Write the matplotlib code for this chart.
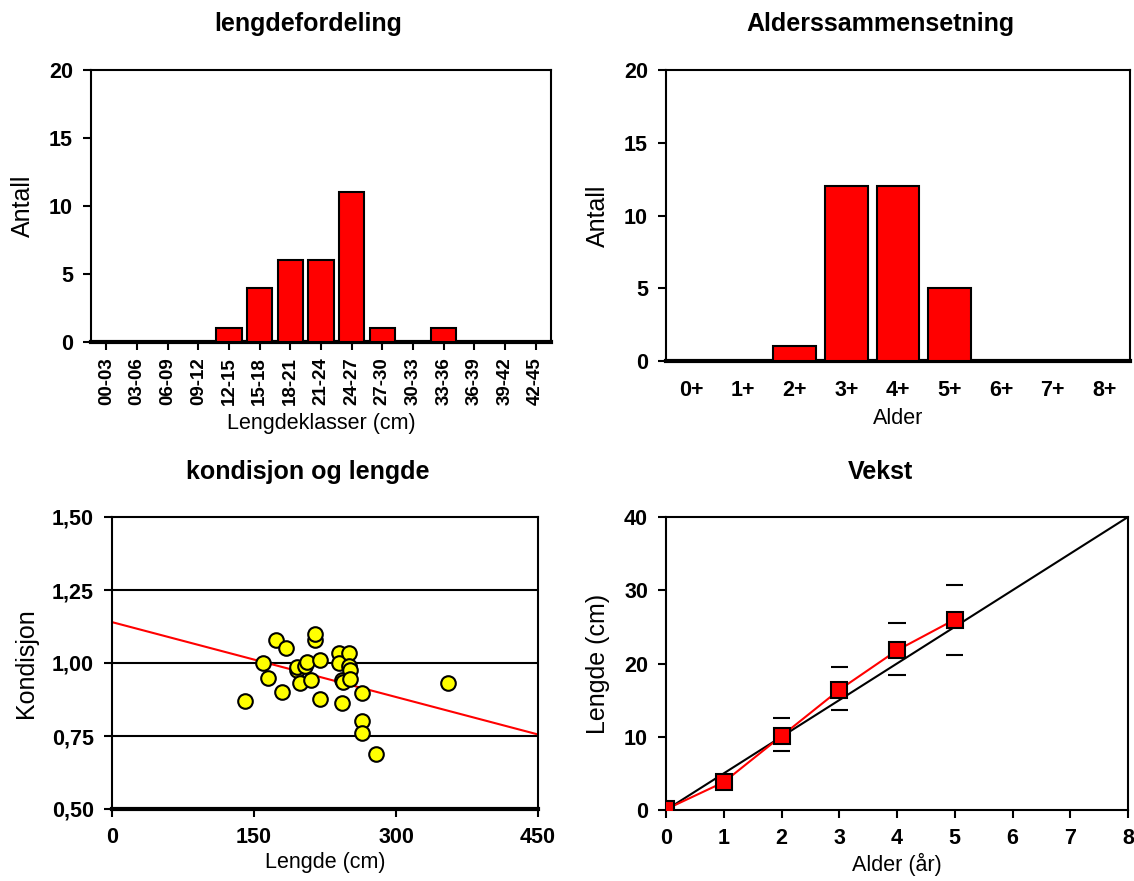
import matplotlib.pyplot as plt
import numpy as np

plt.rcParams['font.family'] = ['Liberation Sans', 'DejaVu Sans']

# lengdefordeling
lengde_klasser = ['00-03', '03-06', '06-09', '09-12', '12-15', '15-18', '18-21', '21-24',
                  '24-27', '27-30', '30-33', '33-36', '36-39', '39-42', '42-45']
lengde_antall = [0, 0, 0, 0, 1, 4, 6, 6, 11, 1, 0, 1, 0, 0, 0]

# alderssammensetning
alder_klasser = ['0+', '1+', '2+', '3+', '4+', '5+', '6+', '7+', '8+']
alder_antall = [0, 0, 1, 12, 12, 5, 0, 0, 0]

# kondisjon og lengde
kond_lengde = [140, 159, 165, 173, 180, 184, 195, 195, 199, 204, 206, 210, 214, 214, 220,
               220, 240, 240, 243, 244, 243, 250, 250, 251, 251, 264, 264, 264, 279, 355]
kond_verdi = [0.87, 1.00, 0.95, 1.08, 0.90, 1.05, 0.975, 0.985, 0.93, 0.99, 1.005, 0.943, 1.08, 1.10, 1.01,
              0.877, 1.034, 1.00, 0.943, 0.934, 0.864, 1.034, 0.99, 0.977, 0.945, 0.898, 0.80, 0.76, 0.69, 0.93]
reg_a = 1.14
reg_b = -0.000855

# vekst
vekst_alder = [0, 1, 2, 3, 4, 5]
vekst_lengde = [0.1, 3.8, 10.1, 16.4, 21.8, 26.0]
vekst_hoy = [0.1, 4.3, 12.6, 19.5, 25.5, 30.7]
vekst_lav = [0.1, 3.3, 8.0, 13.7, 18.4, 21.1]
ref_alder = [0, 8]
ref_lengde = [0, 40]

W, H = 1134, 881
fig = plt.figure(figsize=(W / 100, H / 100), dpi=100)


def lag_akse(l, t, r, b):
    return fig.add_axes([l / W, 1 - b / H, (r - l) / W, (b - t) / H])


def stil(ax, bunn_tykk=True):
    for s in ax.spines.values():
        s.set_linewidth(1.5)
    if bunn_tykk:
        ax.spines['bottom'].set_linewidth(3)
    ax.tick_params(direction='out', width=1.5, length=6, labelsize=15.5)
    ax.tick_params(axis='y', pad=7)
    ax.tick_params(axis='x', pad=9)
    for lab in ax.get_xticklabels() + ax.get_yticklabels():
        lab.set_fontweight('bold')


tittel = dict(fontsize=18, fontweight='bold', ha='center', va='center')
ylab = dict(fontsize=18, labelpad=10)
xlab = dict(fontsize=15.5, labelpad=3)

# --- lengdefordeling
ax1 = lag_akse(91, 70, 551, 342)
x1 = np.arange(len(lengde_klasser))
ax1.bar(x1, lengde_antall, width=0.82, color='#ff0000', edgecolor='black', linewidth=1.5, zorder=3)
ax1.set_xlim(-0.5, len(lengde_klasser) - 0.5)
ax1.set_ylim(0, 20)
ax1.set_yticks([0, 5, 10, 15, 20])
ax1.set_xticks(x1)
ax1.set_xticklabels(lengde_klasser, rotation=90)
stil(ax1)
ax1.tick_params(axis='x', pad=5)
for lab in ax1.get_xticklabels():
    lab.set_fontsize(13.5)
ax1.set_ylabel('Antall', **ylab)
ax1.set_xlabel('Lengdeklasser (cm)', fontsize=15.5, labelpad=6)
fig.text(308 / W, 1 - 24 / H, 'lengdefordeling', **tittel)

# --- alderssammensetning
ax2 = lag_akse(666, 70, 1130, 361)
x2 = np.arange(len(alder_klasser))
ax2.bar(x2, alder_antall, width=0.83, color='#ff0000', edgecolor='black', linewidth=1.5, zorder=3)
ax2.set_xlim(-0.5, len(alder_klasser) - 0.5)
ax2.set_ylim(0, 20)
ax2.set_yticks([0, 5, 10, 15, 20])
ax2.set_xticks(x2)
ax2.set_xticklabels(alder_klasser)
stil(ax2)
ax2.tick_params(axis='x', length=0, pad=14)
ax2.set_ylabel('Antall', **ylab)
ax2.set_xlabel('Alder', fontsize=15.5, labelpad=5)
fig.text(880 / W, 1 - 24 / H, 'Alderssammensetning', **tittel)

# --- kondisjon og lengde
ax3 = lag_akse(112, 517, 538, 809)
for g in [0.75, 1.0, 1.25]:
    ax3.axhline(g, color='black', linewidth=1.5, zorder=1)
xr = np.array([0, 450])
ax3.plot(xr, reg_a + reg_b * xr, color='#ff0000', linewidth=1.5, zorder=2)
ax3.plot(kond_lengde, kond_verdi, 'o', markersize=10.5, markerfacecolor='#ffff00',
         markeredgecolor='black', markeredgewidth=1.5, zorder=3)
ax3.set_xlim(0, 450)
ax3.set_ylim(0.5, 1.5)
ax3.set_xticks([0, 150, 300, 450])
ax3.set_yticks([0.5, 0.75, 1.0, 1.25, 1.5])
ax3.set_yticklabels(['0,50', '0,75', '1,00', '1,25', '1,50'])
stil(ax3)
ax3.tick_params(axis='x', pad=7)
ax3.set_ylabel('Kondisjon', **ylab)
ax3.set_xlabel('Lengde (cm)', **xlab)
fig.text(308 / W, 1 - 472 / H, 'kondisjon og lengde', **tittel)

# --- vekst
ax4 = lag_akse(666, 517, 1128, 810)
ax4.plot(ref_alder, ref_lengde, color='black', linewidth=1.5, zorder=2)
ax4.hlines(vekst_hoy, np.array(vekst_alder) - 0.15, np.array(vekst_alder) + 0.15,
           color='black', linewidth=1.5, zorder=1)
ax4.hlines(vekst_lav, np.array(vekst_alder) - 0.15, np.array(vekst_alder) + 0.15,
           color='black', linewidth=1.5, zorder=1)
ax4.plot(vekst_alder, vekst_lengde, color='#ff0000', linewidth=1.5, marker='s', markersize=11,
         markerfacecolor='#ff0000', markeredgecolor='black', markeredgewidth=1.5, zorder=3)
ax4.set_xlim(0, 8)
ax4.set_ylim(0, 40)
ax4.set_xticks(range(0, 9))
ax4.set_yticks([0, 10, 20, 30, 40])
stil(ax4, bunn_tykk=False)
ax4.tick_params(axis='x', pad=7)
ax4.set_ylabel('Lengde (cm)', **ylab)
ax4.set_xlabel('Alder (år)', **xlab)
fig.text(880 / W, 1 - 472 / H, 'Vekst', **tittel)

fig.savefig('out.png', dpi=100)
